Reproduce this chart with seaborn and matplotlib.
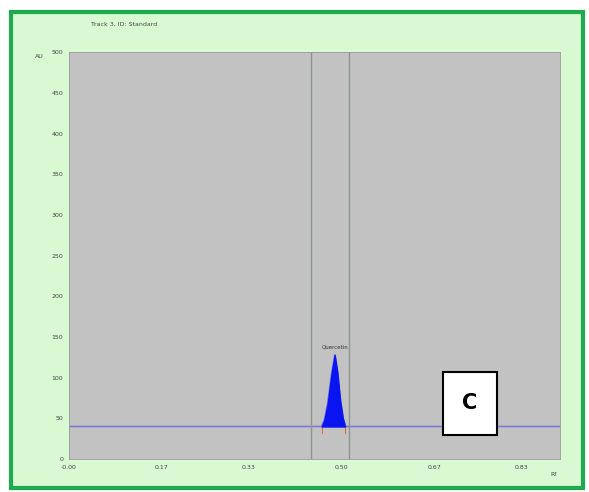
import numpy as np
import pandas as pd
import seaborn as sns
import matplotlib.pyplot as plt
from matplotlib.patches import Rectangle

# Densitogram values
rf = [0.0, 0.44, 0.463, 0.468, 0.474, 0.481, 0.487, 0.492, 0.497, 0.502, 0.506, 0.90]
au = [40, 40, 40, 48, 68, 104, 128, 106, 72, 50, 40, 40]
baseline = 40
peak_start, peak_end = 0.463, 0.506
peak_apex = (0.487, 128)
peak_name = "Quercetin"
window = [0.443, 0.513]
x_ticks = [0.0, 0.17, 0.33, 0.50, 0.67, 0.83]
x_labels = ["-0.00", "0.17", "0.33", "0.50", "0.67", "0.83"]
y_ticks = [0, 50, 100, 150, 200, 250, 300, 350, 400, 450, 500]

df = pd.DataFrame({"Rf": rf, "AU": au})

sns.set_style("white")
plt.rcParams['font.family'] = ['DejaVu Sans']

fig = plt.figure(figsize=(5.89, 4.92), dpi=100)
fig.patch.set_facecolor("white")

# green frame around the whole chart
frame = Rectangle((0.018, 0.008), 0.972, 0.968, transform=fig.transFigure,
                  facecolor="#d8f9d2", edgecolor="#1faa50", linewidth=3, zorder=-5)
fig.patches.append(frame)

ax = fig.add_axes([0.117, 0.067, 0.834, 0.827])
ax.set_zorder(2)
ax.set_facecolor("#c2c2c2")

sns.lineplot(data=df, x="Rf", y="AU", ax=ax, color="#7a78d8", linewidth=1.2)

peak = df[(df["Rf"] >= peak_start) & (df["Rf"] <= peak_end)]
ax.fill_between(peak["Rf"], baseline, peak["AU"], color="#0a14f0", zorder=3)

for xv in window:
    ax.axvline(xv, color="#8e9690", linewidth=1.0)

# peak borders
for xv in [peak_start, peak_end]:
    ax.plot([xv, xv], [baseline - 8, baseline], color="#e07040", linewidth=0.8)

ax.text(peak_apex[0], peak_apex[1] + 6, peak_name, fontsize=4, ha="center", va="bottom", color="#333333")

ax.set_xlim(0, 0.9)
ax.set_ylim(0, 500)
ax.set_xticks(x_ticks)
ax.set_xticklabels(x_labels)
ax.set_yticks(y_ticks)
ax.tick_params(labelsize=4.5, length=2, colors="#444444", pad=2)
ax.set_xlabel("")
ax.set_ylabel("")
for s in ax.spines.values():
    s.set_color("#9a9a9a")
    s.set_linewidth(0.6)

fig.text(0.06, 0.882, "AU", fontsize=4.5, color="#444444")
fig.text(0.935, 0.032, "Rf", fontsize=4.5, color="#444444")
fig.text(0.155, 0.948, "Track 3, ID: Standard", fontsize=4.5, color="#444444")

# panel letter
box = Rectangle((443 / 589, 1 - 435 / 492), 54 / 589, 63 / 492, transform=fig.transFigure,
                facecolor="white", edgecolor="black", linewidth=1.5, zorder=5)
fig.patches.append(box)
fig.text(470 / 589, 1 - 403 / 492, "C", fontsize=15, fontweight="bold", ha="center", va="center",
         color="black", zorder=6)

fig.savefig("out.png", dpi=100)
